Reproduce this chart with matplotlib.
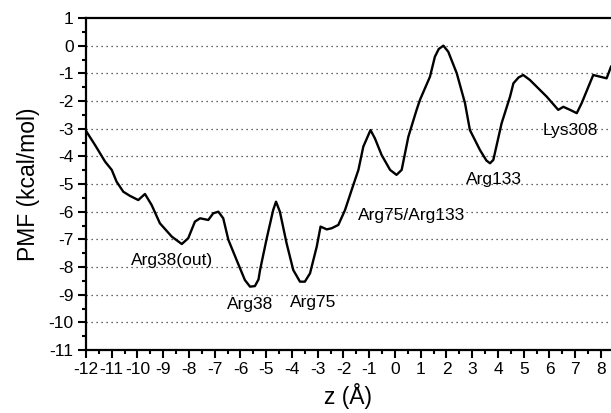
import matplotlib
matplotlib.use("Agg")
import matplotlib.pyplot as plt
from matplotlib.ticker import MultipleLocator

plt.rcParams['font.family'] = ['Liberation Sans', 'DejaVu Sans']
plt.rcParams['axes.unicode_minus'] = False

# PMF profile
z = [-12.0, -11.65, -11.26, -11.0, -10.81, -10.55, -10.29, -9.97, -9.71, -9.45,
     -9.13, -8.67, -8.28, -8.03, -7.77, -7.57, -7.25, -7.06, -6.86, -6.67,
     -6.47, -6.15, -5.83, -5.63, -5.44, -5.30, -5.24, -4.98, -4.73, -4.62,
     -4.47, -4.21, -3.95, -3.69, -3.50, -3.30, -3.04, -2.89, -2.65, -2.46,
     -2.20, -1.94, -1.62, -1.42, -1.23, -0.95, -0.78, -0.52, -0.19, 0.06,
     0.26, 0.52, 0.84, 0.97, 1.36, 1.55, 1.70, 1.88, 2.07, 2.40, 2.72,
     2.91, 3.30, 3.55, 3.69, 3.82, 4.14, 4.47, 4.60, 4.80, 4.98, 5.24, 5.50,
     5.89, 6.34, 6.54, 6.80, 7.06, 7.25, 7.70, 7.96, 8.22, 8.39]
pmf = [-3.08, -3.59, -4.19, -4.49, -4.92, -5.28, -5.43, -5.58, -5.36, -5.76,
       -6.42, -6.90, -7.17, -6.96, -6.36, -6.24, -6.30, -6.06, -6.00, -6.24,
       -7.02, -7.75, -8.47, -8.71, -8.69, -8.45, -8.11, -6.96, -5.94, -5.64,
       -6.00, -7.14, -8.11, -8.53, -8.53, -8.23, -7.27, -6.54, -6.64, -6.60,
       -6.48, -5.94, -5.04, -4.49, -3.65, -3.05, -3.35, -3.95, -4.49, -4.67,
       -4.49, -3.29, -2.32, -1.96, -1.12, -0.40, -0.12, 0.0, -0.22, -1.00, -2.08,
       -3.05, -3.77, -4.15, -4.25, -4.13, -2.81, -1.84, -1.36, -1.15, -1.06, -1.24, -1.48,
       -1.84, -2.32, -2.21, -2.32, -2.44, -2.08, -1.06, -1.12, -1.18, -0.76]

labels = ['Arg38(out)', 'Arg38', 'Arg75', 'Arg75/Arg133', 'Arg133', 'Lys308']
label_z = [-8.67, -5.63, -3.18, 0.66, 3.83, 6.80]
label_pmf = [-7.75, -9.37, -9.30, -6.14, -4.85, -3.08]

fig = plt.figure(figsize=(6.11, 4.13), dpi=100)
ax = fig.add_axes([86 / 611, 63 / 413, 525 / 611, 332 / 413])

for g in range(-10, 1):
    ax.axhline(g, color='#333333', lw=0.9, ls=(0, (1, 3)), zorder=1)

ax.plot(z, pmf, color='black', lw=1.7, zorder=3)

for t, x, y in zip(labels, label_z, label_pmf):
    ax.text(x, y, t, ha='center', va='center', fontsize=12.5, zorder=4)

ax.set_xlim(-12, 8.39)
ax.set_ylim(-11, 1)
ax.xaxis.set_major_locator(MultipleLocator(1))
ax.xaxis.set_minor_locator(MultipleLocator(0.5))
ax.yaxis.set_major_locator(MultipleLocator(1))
ax.yaxis.set_minor_locator(MultipleLocator(0.5))
ax.tick_params(which='major', direction='out', length=6, width=1.5, labelsize=12.5, pad=3)
ax.tick_params(which='minor', direction='out', length=3, width=1.5)

for s in ['left', 'bottom', 'top']:
    ax.spines[s].set_linewidth(1.6)
ax.spines['right'].set_visible(False)

ax.set_xlabel('z (Å)', fontsize=16.5, labelpad=4)
ax.set_ylabel('PMF (kcal/mol)', fontsize=16.5, labelpad=6)

fig.savefig('out.png', dpi=100)
